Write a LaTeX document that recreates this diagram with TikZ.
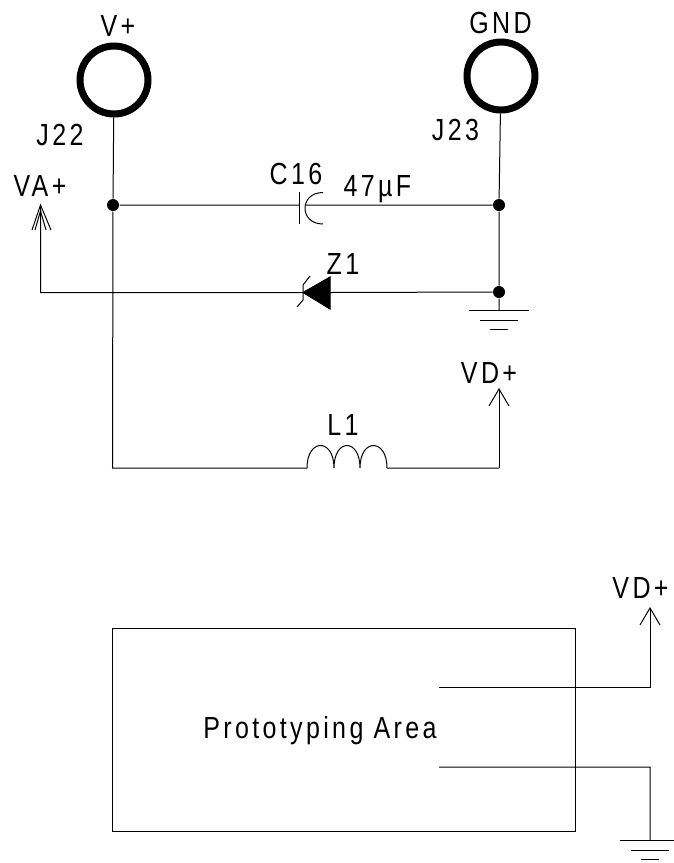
\documentclass[tikz,border=0pt]{standalone}
\usepackage{fontspec}
\setmainfont{Liberation Sans}[LetterSpace=11,FakeStretch=0.82]
\usetikzlibrary{arrows.meta}
\tikzstyle{post}=[circle, draw, line width=7pt, inner sep=0pt, minimum size=68pt]
\tikzstyle{dot}=[circle, fill, inner sep=0pt, minimum size=12pt]
\tikzstyle{lbl}=[inner sep=0pt, anchor=base, font=\fontsize{30.5}{30.5}\selectfont]
\tikzstyle{power}=[-{Straight Barb[length=17pt,width=20pt]}]
\newcommand{\post}{\node[post]}
\newcommand{\dotnode}{\node[dot]}
\newcommand{\lbl}{\node[lbl]}
% ground symbol, #1 = top of the first bar
\newcommand{\groundbars}[1]{
    \draw ([xshift=-30pt]#1) -- ([xshift=30pt]#1);
    \draw ([xshift=-19pt,yshift=-10pt]#1) -- ([xshift=19pt,yshift=-10pt]#1);
    \draw ([xshift=-9pt,yshift=-19pt]#1) -- ([xshift=9pt,yshift=-19pt]#1);
}

\begin{document}
\begin{tikzpicture}[x=1pt, y=-1pt, line width=1pt]
\useasboundingbox (0,0) rectangle (673,863);
\post (jl) at (114,80) {};
\post (jr) at (501,76) {};
\dotnode (a) at (113,205) {};
\dotnode (b) at (499,205) {};
\dotnode (c) at (499,292) {};
\lbl (vp) at (118,36.5) {V+};
\lbl (gnd) at (500.5,33) {GND};
\lbl (jll) at (60,145) {J22};
\lbl (jrl) at (455.5,140) {J23};
\lbl (va) at (40,196) {VA+};
\lbl (cl) at (296,184) {C16};
\lbl (cv) at (377.5,196.5) {47µF};
\lbl (zl) at (343,274) {Z1};
\lbl (ll) at (343,435) {L1};
\lbl (vd) at (489,383) {VD+};
\lbl (vdb) at (640.5,598) {VD+};
\lbl (area) at (320,738) {Prototyping Area};

\coordinate (va1) at (40.5,292.5);
\coordinate (va2) at (40.5,205);
\coordinate (cp) at (299.5,205);
\coordinate (cq) at (306,205);
\coordinate (zk) at (303,292.5);
\coordinate (za) at (330,292.5);
\coordinate (lb) at (112.5,468);
\coordinate (la) at (307,468);
\coordinate (lc) at (387,468);
\coordinate (ld) at (499,468);
\coordinate (le) at (499,388);
\coordinate (g1) at (499,310);
\coordinate (w1) at (439,687);
\coordinate (w2) at (650,687);
\coordinate (w3) at (650,607);
\coordinate (w4) at (439,767);
\coordinate (w5) at (650,767);
\coordinate (g2) at (650,840);

\path[draw]
(jl) -- (a)
(a) -- (lb) -- (la)
(a) -- (cp)
(cq) -- (b)
(jr) -- (b)
(b) -- (c)
(c) -- (za)
(c) -- (g1)
(lc) -- (ld)
(zk) -- (va1) -- (va2)
(w4) -- (w5) -- (g2)
;
\draw[power] (ld) -- (le);
\draw[power] (w1) -- (w2) -- (w3);
% double chevron
\draw (32,230) -- (va2) -- (51,230);
\draw (35,230) -- (40.5,211) -- (46,230);

% capacitor
\draw (299.5,192) -- (299.5,224);
\draw (323,192.5) .. controls (299,192.5) and (299,224) .. (323,224);
% zener
\draw[fill] (zk) -- (330,277) -- (330,309) -- cycle;
\draw (310,276) -- (303,285) -- (303,300) -- (297,307);
% inductor
\draw (la) .. controls (307,438) and (334,438) .. (334,468)
           .. controls (334,438) and (360,438) .. (360,468)
           .. controls (360,438) and (387,438) .. (lc);

\draw (112,628) rectangle (575,831);
\groundbars{g1}
\groundbars{g2}
\end{tikzpicture}
\end{document}
